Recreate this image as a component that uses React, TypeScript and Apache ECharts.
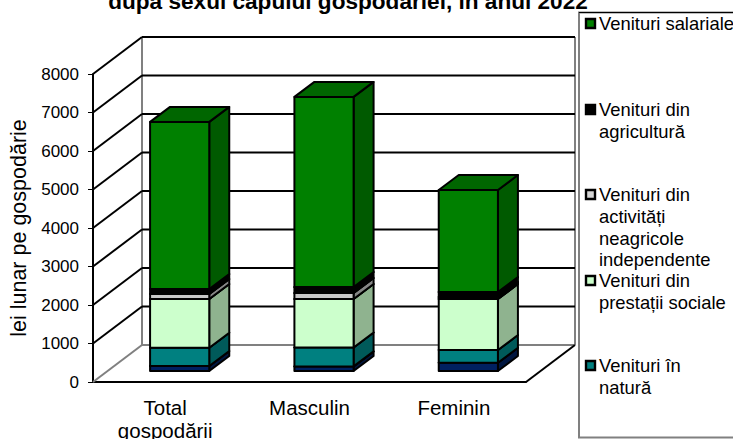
import React, { useEffect, useRef } from "react";
import * as echarts from "echarts";

const categories = ["Total\ngospodării", "Masculin", "Feminin"];
const valueTicks = [0, 1000, 2000, 3000, 4000, 5000, 6000, 7000, 8000];

const alteVenituri = [130, 120, 215];
const venituriNatura = [475, 490, 330];
const prestatiiSociale = [1265, 1260, 1325];
const activitatiNeagricole = [130, 155, 50];
const venituriAgricultura = [130, 155, 130];
const venituriSalariale = [4340, 4940, 2650];

const FONT = "'Liberation Sans', Arial, sans-serif";
const WALL_DX = 49;
const WALL_DY = 37;
const BAR_IN_DX = 14.5;
const BAR_IN_DY = 11;
const BAR_DX = 20;
const BAR_DY = 15;
const BAR_FRACTION = 0.41;

const layers = [
  { name: "Alte venituri", values: alteVenituri, face: "#002060", side: "#001640", top: "#001a50" },
  { name: "Venituri în natură", values: venituriNatura, face: "#008080", side: "#005a5a", top: "#006666" },
  { name: "Venituri din prestații sociale", values: prestatiiSociale, face: "#ccffcc", side: "#8fb38f", top: "#a3cca3" },
  { name: "Venituri din activități neagricole independente", values: activitatiNeagricole, face: "#c8c8c8", side: "#868686", top: "#9a9a9a" },
  { name: "Venituri din agricultură", values: venituriAgricultura, face: "#000000", side: "#000000", top: "#000000" },
  { name: "Venituri salariale", values: venituriSalariale, face: "#008000", side: "#005a00", top: "#006600" },
];

const legendItems = [
  { text: "Venituri salariale", color: "#008000", cy: 24 },
  { text: "Venituri din\nagricultură", color: "#000000", cy: 110 },
  { text: "Venituri din\nactivități\nneagricole\nindependente", color: "#d4d4d4", cy: 195 },
  { text: "Venituri din\nprestații sociale", color: "#ccffcc", cy: 281 },
  { text: "Venituri în\nnatură", color: "#008080", cy: 366 },
];

function wallRender(params: any, api: any) {
  const v = api.value(1);
  const cs = params.coordSys;
  const p = api.coord([0, v]);
  const y = p[1];
  const x0 = cs.x;
  const x1 = cs.x + cs.width;
  const isFloor = v === valueTicks[0];
  const lineColor = isFloor ? "#808080" : "#000000";
  const line = (a: number, b: number, c: number, d: number, stroke: string, w = 2) => ({
    type: "line",
    shape: { x1: a, y1: b, x2: c, y2: d },
    style: { stroke, lineWidth: w, fill: "none" },
  });
  const children: any[] = [
    line(x0 + WALL_DX, y - WALL_DY, x1 + WALL_DX, y - WALL_DY, lineColor),
    line(x0, y, x0 + WALL_DX, y - WALL_DY, lineColor),
  ];
  if (isFloor) {
    const top = cs.y;
    children.push(line(x0 + WALL_DX, top - WALL_DY, x0 + WALL_DX, y - WALL_DY, "#808080", 2));
    children.push(line(x1 + WALL_DX, top - WALL_DY, x1 + WALL_DX, y - WALL_DY, "#808080", 2));
    children.push(line(x1, y, x1 + WALL_DX, y - WALL_DY, "#000000"));
  }
  return { type: "group", children };
}

function barRender(layer: any) {
  return (params: any, api: any) => {
    const start = api.coord([api.value(0), api.value(1)]);
    const end = api.coord([api.value(0), api.value(2)]);
    const w = api.size([1, 0])[0] * BAR_FRACTION;
    const l = start[0] + BAR_IN_DX - w / 2;
    const r = l + w;
    const b = start[1] - BAR_IN_DY;
    const t = end[1] - BAR_IN_DY;
    const style = (fill: string) => ({ fill, stroke: "#000000", lineWidth: 2, lineJoin: "round" });
    return {
      type: "group",
      children: [
        {
          type: "polygon",
          shape: { points: [[r, b], [r + BAR_DX, b - BAR_DY], [r + BAR_DX, t - BAR_DY], [r, t]] },
          style: style(layer.side),
        },
        {
          type: "polygon",
          shape: { points: [[l, t], [r, t], [r + BAR_DX, t - BAR_DY], [l + BAR_DX, t - BAR_DY]] },
          style: style(layer.top),
        },
        { type: "rect", shape: { x: l, y: t, width: w, height: b - t }, style: style(layer.face) },
      ],
    };
  };
}

export default function App() {
  const ref = useRef<HTMLDivElement>(null);
  useEffect(() => {
    const chart = echarts.init(ref.current!, undefined, { renderer: "svg" });
    const cumulative = categories.map(() => 0);
    const barSeries = layers.map((layer) => {
      const data = layer.values.map((v, i) => {
        const row = [i, cumulative[i], cumulative[i] + v];
        cumulative[i] += v;
        return row;
      });
      return {
        type: "custom",
        name: layer.name,
        renderItem: barRender(layer),
        encode: { x: 0, y: [1, 2] },
        data,
        clip: false,
        z: 5,
      };
    });
    const legendGraphics: any[] = [
      {
        type: "rect",
        shape: { x: 579, y: 12.5, width: 170, height: 425 },
        style: { fill: "#ffffff", stroke: "#808080", lineWidth: 2 },
        z: 10,
      },
      {
        type: "line",
        shape: { x1: 579, y1: 12.5, x2: 733, y2: 12.5 },
        style: { stroke: "#000000", lineWidth: 1 },
        z: 11,
      },
    ];
    legendItems.forEach((item) => {
      legendGraphics.push({
        type: "rect",
        shape: { x: 586, y: item.cy - 5, width: 9, height: 9 },
        style: { fill: item.color, stroke: "#000000", lineWidth: 2.4 },
        z: 11,
      });
      legendGraphics.push({
        type: "text",
        x: 599,
        y: item.cy - 11,
        style: {
          text: item.text,
          font: `18.4px ${FONT}`,
          fill: "#000000",
          lineHeight: 21.6,
          textVerticalAlign: "top",
        },
        z: 11,
      });
    });
    chart.setOption({
      animation: false,
      backgroundColor: "#ffffff",
      title: {
        text: "după sexul capului gospodăriei, în anul 2022",
        left: 343,
        top: -15,
        textAlign: "center",
        textStyle: { fontFamily: FONT, fontSize: 22.6, fontWeight: "bold", color: "#000000" },
      },
      grid: { left: 93, right: 207, top: 74, bottom: 57, outerBoundsMode: "none" },
      xAxis: {
        type: "category",
        data: categories,
        boundaryGap: true,
        axisLine: { lineStyle: { color: "#000000", width: 2 } },
        axisTick: { length: 5, lineStyle: { color: "#000000", width: 1 } },
        axisLabel: {
          color: "#000000",
          fontFamily: FONT,
          fontSize: 20.5,
          margin: 14,
          lineHeight: 23,
          interval: 0,
        },
      },
      yAxis: {
        type: "value",
        min: 0,
        max: 8000,
        interval: 1000,
        name: "lei lunar pe gospodărie",
        nameLocation: "middle",
        nameGap: 60,
        nameTextStyle: { color: "#000000", fontFamily: FONT, fontSize: 21.5 },
        axisLine: { show: true, lineStyle: { color: "#000000", width: 2 } },
        axisTick: { show: true, length: 5, lineStyle: { color: "#000000", width: 1 } },
        axisLabel: { color: "#000000", fontFamily: FONT, fontSize: 17, margin: 14, formatter: (v: number) => String(v) },
        splitLine: { show: false },
      },
      graphic: legendGraphics,
      series: [
        {
          type: "custom",
          name: "Pereți",
          renderItem: wallRender,
          encode: { x: 0, y: 1 },
          data: valueTicks.map((v) => [0, v]),
          clip: false,
          z: 1,
        },
        ...barSeries,
      ],
    });
    return () => chart.dispose();
  }, []);
  return <div ref={ref} style={{ position: "absolute", left: 0, top: 0, width: 733, height: 439 }} />;
}
